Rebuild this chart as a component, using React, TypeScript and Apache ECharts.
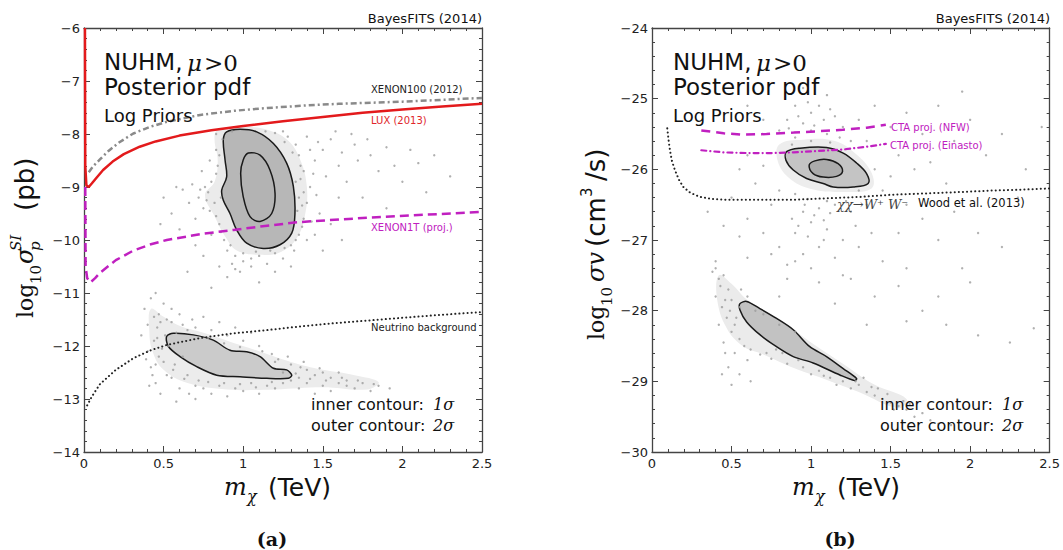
import React, { useEffect, useRef } from "react";
import * as echarts from "echarts";

// ---------- tick labels ----------
const xTicks = [0, 0.5, 1, 1.5, 2, 2.5];

// ---------- left panel (a): sigma_SI ----------
const luxLine = [[0.006,-6.0],[0.008,-8.6],[0.015,-8.97],[0.03,-9.0],[0.05,-8.93],[0.08,-8.82],[0.12,-8.68],[0.18,-8.52],[0.25,-8.38],[0.35,-8.24],[0.45,-8.14],[0.6,-8.03],[0.8,-7.93],[1.0,-7.85],[1.25,-7.76],[1.5,-7.68],[1.75,-7.6],[2.0,-7.54],[2.25,-7.48],[2.5,-7.43]];
const xenon100Line = [[0.03,-8.72],[0.06,-8.6],[0.1,-8.48],[0.15,-8.33],[0.22,-8.16],[0.31,-7.99],[0.42,-7.86],[0.52,-7.77],[0.73,-7.64],[0.95,-7.56],[1.15,-7.51],[1.4,-7.46],[1.6,-7.43],[2.0,-7.39],[2.5,-7.32]];
const xenon1tLine = [[0.008,-9.0],[0.01,-10.5],[0.02,-10.72],[0.04,-10.8],[0.07,-10.72],[0.1,-10.62],[0.2,-10.38],[0.31,-10.2],[0.42,-10.08],[0.52,-10.0],[0.73,-9.89],[0.94,-9.81],[1.15,-9.73],[1.36,-9.66],[1.78,-9.58],[2.1,-9.53],[2.5,-9.47]];
const neutrinoLine = [[0.02,-13.12],[0.05,-12.95],[0.1,-12.72],[0.2,-12.45],[0.31,-12.23],[0.42,-12.08],[0.52,-11.98],[0.73,-11.85],[0.94,-11.76],[1.15,-11.7],[1.36,-11.63],[1.57,-11.57],[1.78,-11.52],[1.99,-11.47],[2.25,-11.41],[2.5,-11.36]];

const ulOuter = [[0.896,-7.96],[0.98,-7.91],[1.085,-7.96],[1.19,-8.18],[1.273,-8.55],[1.315,-8.99],[1.325,-9.5],[1.305,-9.87],[1.231,-10.09],[1.126,-10.16],[1.022,-10.06],[0.959,-9.81],[0.917,-9.5],[0.875,-9.25],[0.865,-9.06],[0.896,-8.81],[0.886,-8.49],[0.875,-8.11]];
const ulInner = [[1.032,-8.36],[1.106,-8.4],[1.168,-8.68],[1.2,-9.12],[1.179,-9.5],[1.106,-9.65],[1.043,-9.56],[1.0,-9.18],[0.984,-8.74],[1.0,-8.49]];
const ulHalo = [[0.84,-7.92],[1.0,-7.87],[1.15,-7.92],[1.28,-8.12],[1.36,-8.5],[1.4,-9.0],[1.39,-9.5],[1.34,-9.95],[1.24,-10.22],[1.1,-10.28],[0.96,-10.2],[0.89,-9.95],[0.82,-9.55],[0.76,-9.15],[0.82,-8.9],[0.84,-8.5],[0.82,-8.1]];
const llOuter = [[0.519,-11.82],[0.561,-11.76],[0.687,-11.79],[0.812,-11.89],[0.917,-12.08],[1.022,-12.11],[1.106,-12.2],[1.19,-12.42],[1.273,-12.45],[1.305,-12.55],[1.284,-12.61],[1.148,-12.61],[0.98,-12.58],[0.834,-12.55],[0.708,-12.39],[0.603,-12.2],[0.53,-12.01]];
const llHalo = [[0.42,-11.3],[0.5,-11.45],[0.6,-11.62],[0.75,-11.75],[0.9,-11.9],[1.1,-12.1],[1.3,-12.3],[1.5,-12.45],[1.7,-12.55],[1.85,-12.68],[1.78,-12.82],[1.5,-12.78],[1.2,-12.82],[0.9,-12.82],[0.65,-12.7],[0.5,-12.45],[0.43,-12.1],[0.41,-11.7]];

const ulPoints = [[0.62,-9.05],[0.68,-8.95],[0.72,-9.2],[0.75,-9.4],[0.7,-9.6],[0.78,-9.1],[0.8,-8.9],[0.82,-9.3],[0.66,-9.3],[0.58,-9.0],[0.74,-8.7],[0.79,-8.5],[0.83,-8.3],[0.85,-9.7],[0.8,-9.9],[0.88,-10.0],[0.9,-10.2],[0.95,-10.3],[1.0,-10.4],[1.05,-10.35],[1.1,-10.3],[1.15,-10.45],[1.2,-10.25],[1.3,-10.1],[1.35,-9.9],[1.38,-9.6],[1.4,-9.3],[1.42,-9.0],[1.38,-8.7],[1.35,-8.4],[1.33,-8.2],[1.28,-8.05],[1.2,-7.98],[1.45,-8.5],[1.5,-8.3],[1.52,-8.8],[1.55,-8.1],[1.6,-8.6],[1.62,-8.35],[1.65,-8.9],[1.7,-8.2],[1.72,-8.5],[1.75,-9.2],[1.8,-8.4],[1.85,-8.7],[1.9,-8.25],[1.95,-8.6],[2.0,-8.9],[2.05,-8.3],[2.1,-8.55],[1.48,-9.5],[1.55,-9.7],[1.6,-9.2],[1.45,-9.9],[1.5,-10.2],[1.62,-10.0],[1.3,-10.5],[1.2,-10.6],[0.98,-10.6],[0.9,-10.7],[0.85,-10.5],[0.75,-10.3],[0.7,-10.1],[0.6,-9.8],[0.55,-9.5],[0.5,-9.2],[0.48,-9.7],[0.65,-10.6],[0.8,-10.9],[1.1,-10.8],[1.25,-7.95],[1.4,-8.05],[1.47,-8.15],[1.58,-7.95],[1.68,-8.0],[1.78,-8.1],[2.2,-8.4],[2.3,-8.8],[2.15,-9.1],[1.9,-9.4],[1.35,-9.2],[1.34,-9.45],[1.33,-8.9],[1.36,-8.6],[1.37,-9.75],[1.32,-10.2],[0.86,-9.2],[0.84,-8.6],[0.87,-8.1],[0.83,-8.0],[0.76,-9.0],[0.73,-9.05],[0.77,-9.25],[0.79,-9.45],[0.83,-9.55],[0.86,-9.85],[0.92,-10.1],[1.0,-10.25],[1.08,-10.22],[1.17,-10.2],[1.26,-10.15],[1.33,-10.0],[1.37,-9.35],[1.38,-9.1],[1.36,-8.85],[1.31,-8.35],[1.26,-8.15],[1.14,-7.95],[0.93,-7.95],[0.85,-8.4],[0.83,-8.75],[1.42,-8.3],[1.44,-8.75],[1.46,-9.15],[1.43,-9.65],[1.4,-10.0],[1.25,-10.35],[1.05,-10.5],[0.93,-10.45],[0.95,-10.55]];
const llPoints = [[0.38,-11.3],[0.4,-11.6],[0.42,-11.1],[0.45,-11.0],[0.47,-11.4],[0.5,-11.2],[0.52,-11.5],[0.55,-11.3],[0.6,-11.4],[0.44,-11.9],[0.4,-12.1],[0.42,-12.4],[0.45,-12.7],[0.48,-12.9],[0.5,-12.3],[0.55,-12.6],[0.6,-12.8],[0.65,-12.55],[0.7,-13.0],[0.75,-12.8],[0.8,-12.9],[0.85,-12.75],[0.9,-12.95],[0.95,-12.8],[1.0,-12.85],[1.05,-12.7],[1.1,-12.9],[1.15,-12.75],[1.2,-12.8],[1.25,-12.7],[1.3,-12.65],[1.35,-12.6],[1.4,-12.7],[1.45,-12.55],[1.5,-12.75],[1.55,-12.6],[1.6,-12.7],[1.65,-12.65],[1.7,-12.8],[1.75,-12.7],[1.8,-12.85],[1.85,-12.75],[1.92,-12.8],[1.6,-12.5],[1.5,-12.5],[1.4,-12.45],[1.3,-12.35],[1.2,-12.3],[1.1,-12.0],[1.0,-11.9],[0.9,-11.8],[0.8,-11.7],[0.7,-11.65],[0.62,-11.6],[0.58,-11.75],[0.53,-12.0],[0.47,-12.2],[0.36,-11.8],[0.56,-12.45],[0.66,-12.9],[0.72,-12.65],[0.62,-12.2],[1.25,-12.5],[1.35,-12.8],[1.45,-12.9],[1.55,-12.85],[0.46,-11.65],[0.51,-11.8],[0.43,-12.55],[0.68,-11.5],[0.75,-11.45],[0.85,-11.55],[0.95,-11.65],[1.05,-11.75],[1.12,-12.1],[1.28,-12.2],[1.38,-12.3],[0.39,-12.25],[0.41,-12.75],[0.58,-13.05],[0.44,-11.45],[0.48,-11.55],[0.46,-11.85],[0.49,-12.05],[0.45,-12.35],[0.52,-12.55],[0.57,-12.35],[0.63,-12.62],[0.7,-12.75],[0.78,-12.68],[0.88,-12.7],[0.98,-12.72],[1.08,-12.78],[1.18,-12.68],[1.33,-12.52],[1.42,-12.62],[1.52,-12.65],[1.62,-12.6],[1.72,-12.65],[1.82,-12.72],[1.65,-12.75],[1.48,-12.42],[1.36,-12.4],[0.55,-11.55],[0.65,-11.7],[0.78,-11.85],[0.88,-11.95],[0.98,-12.02],[1.18,-12.15],[1.22,-12.25]];

// ---------- right panel (b): sigma v ----------
const ctaNfwLine = [[0.31,-25.45],[0.45,-25.49],[0.57,-25.51],[0.72,-25.5],[0.89,-25.48],[1.05,-25.46],[1.2,-25.44],[1.35,-25.41],[1.47,-25.37]];
const ctaEinLine = [[0.31,-25.73],[0.45,-25.76],[0.6,-25.77],[0.75,-25.77],[0.89,-25.76],[1.05,-25.74],[1.2,-25.72],[1.35,-25.68],[1.47,-25.64]];
const woodLine = [[0.096,-25.42],[0.105,-25.6],[0.113,-25.73],[0.125,-25.88],[0.144,-26.01],[0.17,-26.15],[0.197,-26.25],[0.24,-26.33],[0.3,-26.39],[0.38,-26.42],[0.47,-26.43],[0.7,-26.43],[0.89,-26.43],[1.1,-26.41],[1.31,-26.39],[1.5,-26.36],[1.73,-26.34],[1.95,-26.32],[2.14,-26.3],[2.3,-26.29],[2.5,-26.27]];

const ruOuter = [[0.846,-25.75],[0.93,-25.7],[1.097,-25.69],[1.202,-25.77],[1.286,-25.91],[1.349,-26.06],[1.359,-26.2],[1.265,-26.25],[1.139,-26.25],[1.076,-26.2],[0.972,-26.13],[0.888,-26.01],[0.842,-25.87]];
const ruInner = [[0.988,-25.94],[1.024,-25.88],[1.097,-25.86],[1.17,-25.92],[1.198,-26.03],[1.16,-26.1],[1.076,-26.11],[1.013,-26.06]];
const ruHalo = [[0.8,-25.65],[0.95,-25.58],[1.15,-25.6],[1.28,-25.78],[1.38,-26.05],[1.38,-26.27],[1.2,-26.32],[1.0,-26.28],[0.86,-26.12],[0.79,-25.88]];
const rlOuter = [[0.553,-27.9],[0.595,-27.87],[0.678,-27.97],[0.783,-28.11],[0.888,-28.27],[0.992,-28.51],[1.097,-28.65],[1.202,-28.82],[1.286,-28.96],[1.275,-28.99],[1.181,-28.91],[1.013,-28.74],[0.888,-28.65],[0.783,-28.51],[0.678,-28.34],[0.595,-28.16],[0.553,-27.99]];
const rlHalo = [[0.42,-27.5],[0.5,-27.62],[0.6,-27.85],[0.8,-28.12],[1.0,-28.45],[1.2,-28.75],[1.4,-29.05],[1.6,-29.25],[1.55,-29.38],[1.3,-29.15],[1.1,-28.98],[0.9,-28.82],[0.7,-28.62],[0.57,-28.5],[0.47,-28.25],[0.41,-27.85]];

const ruPoints = [[0.95,-24.85],[1.1,-24.95],[0.9,-25.1],[1.0,-25.2],[1.05,-25.1],[1.15,-25.25],[0.85,-25.3],[0.95,-25.35],[1.2,-25.4],[1.1,-25.5],[0.9,-25.55],[1.0,-25.6],[0.8,-25.45],[1.3,-25.3],[1.25,-25.6],[0.7,-25.3],[0.6,-25.1],[1.4,-25.1],[1.5,-25.4],[1.6,-25.2],[1.7,-25.5],[1.8,-25.1],[1.9,-25.6],[2.0,-25.3],[2.1,-25.8],[2.2,-25.5],[2.35,-26.0],[1.55,-25.8],[1.65,-26.0],[1.75,-25.9],[1.85,-26.2],[1.5,-26.1],[1.45,-26.3],[1.6,-26.5],[1.7,-26.7],[1.9,-26.6],[2.05,-26.9],[2.2,-27.1],[1.8,-27.0],[1.55,-26.9],[1.35,-26.5],[1.25,-26.6],[1.15,-26.5],[1.05,-26.55],[0.95,-26.6],[1.0,-26.75],[1.1,-26.85],[0.9,-26.9],[1.2,-27.0],[1.05,-27.1],[0.95,-27.2],[1.15,-27.25],[1.3,-27.1],[0.85,-27.35],[1.0,-27.4],[1.2,-27.5],[0.8,-27.1],[0.7,-26.9],[0.6,-26.7],[0.55,-26.95],[0.75,-26.5],[0.65,-26.2],[0.55,-26.0],[0.5,-26.4],[0.45,-26.8],[0.7,-25.95],[0.6,-25.8],[0.8,-26.3],[0.9,-26.35],[1.3,-26.3],[1.4,-26.0],[1.35,-25.6],[1.0,-25.45],[0.88,-25.65],[1.12,-25.62],[2.3,-26.4],[2.45,-25.4],[1.95,-24.9],[0.35,-26.6],[0.4,-27.3],[1.1,-26.45],[0.98,-26.42],[1.22,-26.45],[1.28,-26.8],[0.88,-26.7],[1.38,-26.9],[1.45,-27.3],[1.6,-27.4],[0.92,-25.25],[1.02,-25.38],[1.08,-25.3],[0.98,-25.05],[1.12,-25.15],[0.86,-25.42],[1.18,-25.55],[0.96,-26.5],[1.02,-26.65],[1.08,-26.72],[0.92,-26.8],[1.12,-26.62],[0.98,-26.95],[1.08,-27.0]];
const rlPoints = [[0.38,-27.45],[0.42,-27.55],[0.45,-27.5],[0.48,-27.7],[0.4,-27.8],[0.44,-27.95],[0.5,-27.85],[0.47,-28.1],[0.42,-28.2],[0.45,-28.45],[0.5,-28.3],[0.52,-28.6],[0.48,-28.8],[0.5,-29.05],[0.55,-28.9],[0.58,-28.5],[0.6,-28.7],[0.53,-28.1],[0.56,-27.7],[0.6,-27.8],[0.65,-28.0],[0.7,-28.05],[0.72,-28.6],[0.78,-28.55],[0.85,-28.75],[0.92,-28.7],[1.0,-28.9],[1.05,-28.85],[1.12,-28.95],[1.2,-29.0],[1.25,-29.1],[1.3,-29.05],[1.35,-29.15],[1.4,-29.2],[1.45,-29.25],[1.5,-29.3],[1.55,-29.35],[1.6,-29.4],[1.65,-29.5],[1.7,-29.45],[1.75,-29.55],[1.8,-29.6],[1.88,-29.62],[1.42,-29.1],[1.33,-28.95],[0.8,-28.2],[0.9,-28.3],[0.55,-27.95],[0.62,-29.0],[0.4,-27.4],[0.75,-27.2],[0.9,-27.3],[1.05,-27.6],[1.25,-27.55],[1.4,-27.8],[1.55,-27.65],[1.7,-28.0],[1.8,-27.8],[1.85,-28.2],[2.05,-28.35],[2.25,-28.45],[2.4,-28.25],[1.6,-28.15],[1.35,-28.2],[1.15,-27.9],[2.0,-27.6],[1.95,-27.4],[0.85,-27.55],[0.6,-27.25],[0.8,-27.8],[0.43,-27.65],[0.46,-27.85],[0.49,-28.0],[0.52,-28.2],[0.55,-28.4],[0.62,-28.55],[0.68,-28.62],[0.75,-28.68],[0.82,-28.6],[0.95,-28.8],[1.08,-28.92],[1.16,-29.05],[1.28,-29.0],[1.38,-29.08],[1.48,-29.18],[1.58,-29.28],[1.52,-29.4],[1.62,-29.32],[0.46,-28.6],[0.44,-28.9]];

const AX = "#444";
const MAG = "#c020c0";
const SANS = '"DejaVu Sans"';
const SERIF = '"DejaVu Serif"';

function mkX(gi: number, top: boolean) {
  return {
    type: "value", gridIndex: gi, min: 0, max: 2.5, interval: 0.5,
    position: top ? "top" : "bottom",
    axisLine: { show: true, onZero: false, lineStyle: { color: AX, width: 1.3 } },
    axisTick: { show: true, inside: true, length: 6, lineStyle: { color: AX, width: 1 } },
    minorTick: { show: true, splitNumber: 5, length: 3, lineStyle: { color: AX, width: 1 } },
    axisLabel: { show: !top, margin: 5, fontSize: 13, color: "#222", fontFamily: "DejaVu Sans",
      formatter: (v: number) => (xTicks.indexOf(v) >= 0 ? String(v) : "") },
    splitLine: { show: false },
  };
}
function mkY(gi: number, right: boolean, min: number, max: number) {
  return {
    type: "value", gridIndex: gi, min, max, interval: 1,
    position: right ? "right" : "left",
    axisLine: { show: true, onZero: false, lineStyle: { color: AX, width: 1.3 } },
    axisTick: { show: true, inside: true, length: 6, lineStyle: { color: AX, width: 1 } },
    minorTick: { show: true, splitNumber: 5, length: 3, lineStyle: { color: AX, width: 1 } },
    axisLabel: { show: !right, margin: 4, fontSize: 13, color: "#222", fontFamily: "DejaVu Sans",
      formatter: (v: number) => String(v).replace("-", "\u2212") },
    splitLine: { show: false },
  };
}

function poly(xi: number, pts: number[][], fill: string, stroke: string, lw: number, smooth: number) {
  return {
    type: "custom", xAxisIndex: xi, yAxisIndex: xi, silent: true,
    data: [pts[0]],
    renderItem: (_p: any, api: any) => ({
      type: "polygon",
      shape: { points: pts.map((p) => api.coord(p)), smooth },
      style: { fill, stroke, lineWidth: lw },
    }),
  };
}
function scat(xi: number, pts: number[][]) {
  return { type: "scatter", xAxisIndex: xi, yAxisIndex: xi, silent: true, symbol: "circle",
    symbolSize: 2.4, itemStyle: { color: "#9c9c9c" }, data: pts };
}
function line(xi: number, pts: number[][], color: string, width: number, type: any, cap = "butt") {
  return { type: "line", xAxisIndex: xi, yAxisIndex: xi, silent: true, symbol: "none", showSymbol: false,
    data: pts, lineStyle: { color, width, type, cap } };
}

function T(text: string, x: number, y: number, font: string, fill = "#111", align = "left", rotation = 0) {
  return { type: "text", x, y, rotation, silent: true, z: 100,
    style: { text, font, fill, align, textAlign: align, verticalAlign: "middle", textVerticalAlign: "middle" } };
}

export default function App() {
  const ref = useRef<HTMLDivElement>(null);
  useEffect(() => {
    if (!ref.current) return;
    const chart = echarts.init(ref.current, null, { renderer: "svg" });
    const R = Math.PI / 2;
    const graphic: any[] = [
      // panel a
      T("BayesFITS (2014)", 482, 18, `13px ${SANS}`, "#111", "right"),
      T("NUHM,", 104, 62, `23px ${SANS}`),
      T("\u03bc", 187, 63, `italic 23px ${SERIF}`),
      T(">0", 204, 63, `23px ${SERIF}`),
      T("Posterior pdf", 104, 87, `23px ${SANS}`),
      T("Log Priors", 104, 115, `18px ${SANS}`),
      T("XENON100 (2012)", 371, 89, `10px ${SANS}`, "#222"),
      T("LUX (2013)", 371, 120, `10px ${SANS}`, "#e0262a"),
      T("XENON1T (proj.)", 371, 227, `10px ${SANS}`, MAG),
      T("Neutrino background", 371, 327, `10px ${SANS}`, "#222"),
      T("inner contour:", 311, 404, `16px ${SANS}`),
      T("1\u03c3", 433, 404, `italic 16px ${SERIF}`),
      T("outer contour:", 311, 425, `16px ${SANS}`),
      T("2\u03c3", 433, 425, `italic 16px ${SERIF}`),
      T("m", 224, 487, `italic 24px ${SERIF}`),
      T("\u03c7", 247, 496, `italic 16px ${SERIF}`),
      T("(TeV)", 268, 487, `25px ${SANS}`),
      T("(a)", 272, 539, `bold 19px ${SERIF}`, "#111", "center"),
      T("log", 25, 318, `22px ${SERIF}`, "#111", "left", R),
      T("10", 36, 284, `15px ${SERIF}`, "#111", "left", R),
      T("\u03c3", 25, 264, `italic 24px ${SERIF}`, "#111", "left", R),
      T("SI", 16, 251, `italic 15px ${SERIF}`, "#111", "left", R),
      T("p", 35, 251, `italic 15px ${SERIF}`, "#111", "left", R),
      T("(pb)", 25, 211, `26px ${SANS}`, "#111", "left", R),
      // panel b
      T("BayesFITS (2014)", 1050, 18, `13px ${SANS}`, "#111", "right"),
      T("NUHM,", 673, 62, `23px ${SANS}`),
      T("\u03bc", 756, 63, `italic 23px ${SERIF}`),
      T(">0", 773, 63, `23px ${SERIF}`),
      T("Posterior pdf", 673, 87, `23px ${SANS}`),
      T("Log Priors", 673, 115, `18px ${SANS}`),
      T("CTA proj. (NFW)", 891, 127, `10px ${SANS}`, MAG),
      T("CTA proj. (Einasto)", 890, 145, `10px ${SANS}`, MAG),
      T("\u03c7\u03c7\u2192W\u207a W\u207b", 837, 204, `italic 13px ${SERIF}`, "#444"),
      T("Wood et al. (2013)", 918, 203, `11.5px ${SANS}`, "#111"),
      T("inner contour:", 880, 404, `16px ${SANS}`),
      T("1\u03c3", 1002, 404, `italic 16px ${SERIF}`),
      T("outer contour:", 880, 425, `16px ${SANS}`),
      T("2\u03c3", 1002, 425, `italic 16px ${SERIF}`),
      T("m", 792, 487, `italic 24px ${SERIF}`),
      T("\u03c7", 815, 496, `italic 16px ${SERIF}`),
      T("(TeV)", 837, 487, `25px ${SANS}`),
      T("(b)", 840, 539, `bold 19px ${SERIF}`, "#111", "center"),
      T("log", 596, 340, `22px ${SERIF}`, "#111", "left", R),
      T("10", 607, 306, `15px ${SERIF}`, "#111", "left", R),
      T("\u03c3v", 596, 282, `italic 24px ${SERIF}`, "#111", "left", R),
      T("(cm", 596, 247, `26px ${SANS}`, "#111", "left", R),
      T("3", 587, 197, `15px ${SANS}`, "#111", "left", R),
      T("/s)", 596, 181, `26px ${SANS}`, "#111", "left", R),
    ];
    const option: any = {
      animation: false,
      backgroundColor: "#ffffff",
      textStyle: { fontFamily: "DejaVu Sans" },
      grid: [
        { left: 84, top: 28, width: 398, height: 424 },
        { left: 652, top: 28, width: 398, height: 424 },
      ],
      xAxis: [mkX(0, false), mkX(1, false), mkX(0, true), mkX(1, true)],
      yAxis: [mkY(0, false, -14, -6), mkY(1, false, -30, -24), mkY(0, true, -14, -6), mkY(1, true, -30, -24)],
      series: [
        // panel a
        poly(0, ulHalo, "#ebebeb", "none", 0, 0.4),
        poly(0, llHalo, "#ececec", "none", 0, 0.4),
        scat(0, ulPoints),
        scat(0, llPoints),
        poly(0, ulOuter, "#b7b7b7", "#1a1a1a", 1.5, 0.35),
        poly(0, ulInner, "#b3b3b3", "#1a1a1a", 1.5, 0.35),
        poly(0, llOuter, "#cbcbcb", "#1a1a1a", 1.5, 0.3),
        line(0, xenon100Line, "#8a8a8a", 2.5, [6, 3, 2, 3]),
        line(0, luxLine, "#e31a1c", 2.5, "solid"),
        line(0, xenon1tLine, MAG, 2.5, [9, 5]),
        line(0, neutrinoLine, "#222", 2, [0.1, 4], "round"),
        // panel b
        poly(1, ruHalo, "#ededed", "none", 0, 0.4),
        poly(1, rlHalo, "#ebebeb", "none", 0, 0.4),
        scat(1, ruPoints),
        scat(1, rlPoints),
        poly(1, ruOuter, "#c4c4c4", "#1a1a1a", 1.5, 0.35),
        poly(1, ruInner, "#ababab", "#1a1a1a", 1.5, 0.4),
        poly(1, rlOuter, "#c2c2c2", "#1a1a1a", 1.5, 0.3),
        line(1, ctaNfwLine, MAG, 2.5, [9, 6]),
        line(1, ctaEinLine, MAG, 2.2, [5, 4, 0.1, 4], "round"),
        line(1, woodLine, "#222", 2, [0.1, 4], "round"),
      ],
      graphic,
    };
    chart.setOption(option);
    return () => chart.dispose();
  }, []);
  return <div ref={ref} style={{ position: "absolute", left: 0, top: 0, width: 1063, height: 550 }} />;
}
